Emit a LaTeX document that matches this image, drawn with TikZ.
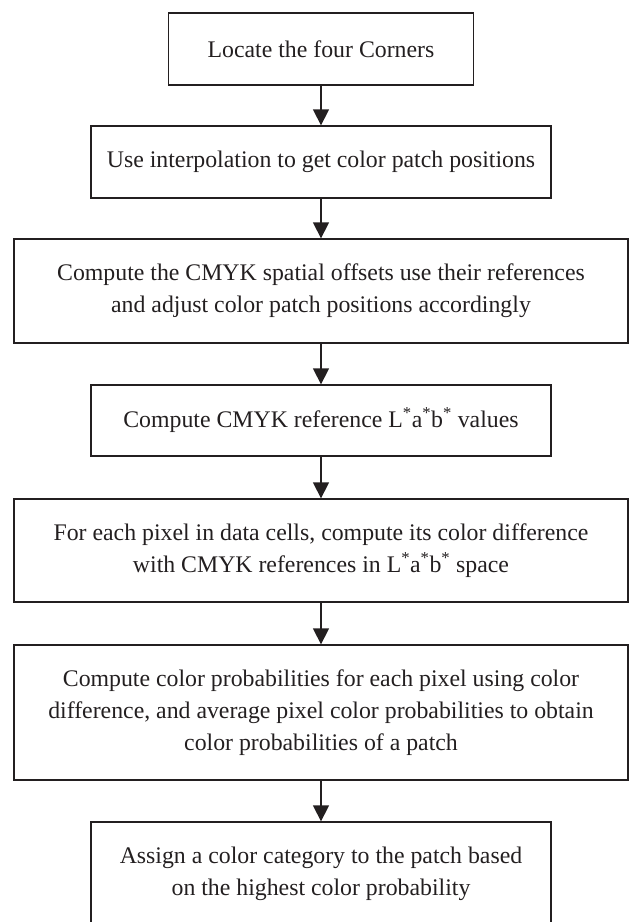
\documentclass[tikz,border=0pt]{standalone}
\usepackage{fontspec}
\setmainfont{Liberation Serif}
\usetikzlibrary{arrows.meta}
\definecolor{ink}{HTML}{231F20}
\begin{document}
\begin{tikzpicture}[x=1pt,y=-1pt,
  stepbox/.style={draw=ink,line width=1.3pt,rectangle,inner sep=0pt,align=center,
    text=ink,font=\fontsize{23.8}{32}\selectfont},
  arr/.style={draw=ink,line width=1.3pt,-{Triangle[width=16pt,length=16pt]}}]
\useasboundingbox (0,0) rectangle (629,922);
\node[stepbox,minimum width=305pt,minimum height=72pt] (b1) at (321,49) {Locate the four Corners};
\node[stepbox,minimum width=460pt,minimum height=72pt] (b2) at (321,162) {Use interpolation to get color patch positions};
\node[stepbox,minimum width=614pt,minimum height=104pt] (b3) at (321,291) {Compute the CMYK spatial offsets use their references\\and adjust color patch positions accordingly};
\node[stepbox,minimum width=460pt,minimum height=71pt] (b4) at (321,420.5) {Compute CMYK reference L\textsuperscript{*}a\textsuperscript{*}b\textsuperscript{*} values};
\node[stepbox,minimum width=614pt,minimum height=103pt] (b5) at (321,550.5) {For each pixel in data cells, compute its color difference\\with CMYK references in L\textsuperscript{*}a\textsuperscript{*}b\textsuperscript{*} space};
\node[stepbox,minimum width=614pt,minimum height=135pt] (b6) at (321,712.5) {Compute color probabilities for each pixel using color\\difference, and average pixel color probabilities to obtain\\color probabilities of a patch};
\node[stepbox,minimum width=460pt,minimum height=104pt] (b7) at (321,874) {Assign a color category to the patch based\\on the highest color probability};
\draw[arr] (b1.south) -- (b2.north);
\draw[arr] (b2.south) -- (b3.north);
\draw[arr] (b3.south) -- (b4.north);
\draw[arr] (b4.south) -- (b5.north);
\draw[arr] (b5.south) -- (b6.north);
\draw[arr] (b6.south) -- (b7.north);
\end{tikzpicture}
\end{document}
